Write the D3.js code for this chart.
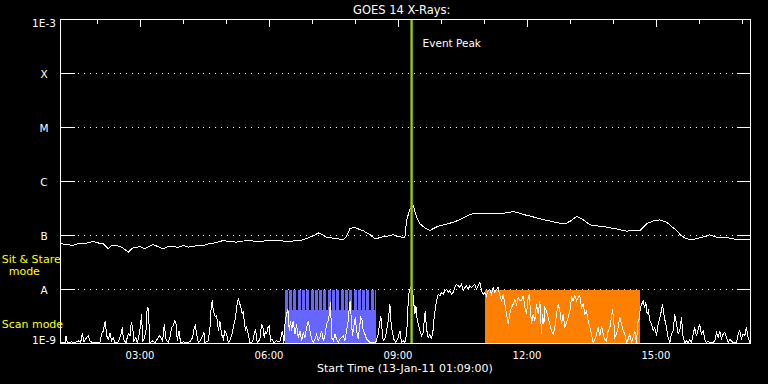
<!DOCTYPE html>
<html><head><meta charset="utf-8">
<script src="https://cdn.jsdelivr.net/npm/d3@7"></script>
<style>html,body{margin:0;padding:0;background:#000;}svg{display:block;}</style>
</head><body><svg id="c" width="768" height="384"></svg>
<script>
// ---------------- DATA ----------------
const startClock = "01:09";               // 13-Jan-11 01:09:00
const endMinutes = 963;                   // span of the plot in minutes
const levelValues = [1e-9, 1e-8, 1e-7, 1e-6, 1e-5, 1e-4, 1e-3];
const levelLabels = ["1E-9", "A", "B", "C", "M", "X", "1E-3"];
const gridLevels = [1e-8, 1e-7, 1e-6, 1e-5, 1e-4];
const eventPeakClock = "09:19";
const scanModeSpan = ["06:22", "08:30"];
const sitStareStripes = ["06:22","06:28","06:34","06:40","06:46","06:52","06:58","07:04","07:10","07:16","07:22",
  "07:28","07:34","07:40","07:46","07:52","07:58","08:04","08:10","08:16","08:22","08:28"];
const orangeSpan = ["11:01", "14:38"];

// long channel (1-8 A): [minutes since start, flux in nW/m^2]
const xrsLong = [[0,70],[1.7,70.2],[10,68],[17.9,65.3],[25,72],[31.8,70.2],[40,74],[45.8,77.4],[52,73],[59.7,70.2],[66.7,56.7],[72,66],[78.4,65.3],[86,60],[94.6,49.1],[100,58],[106.3,60.8],[112,62],[117.9,56.7],[124,63],[129.5,68.1],[136,62],[143.4,56.7],[150,63],[157.4,63.4],[164,60],[171.3,65.3],[178,61],[185.3,62.5],[192,66],[199.2,65.3],[206,70],[213.2,72.1],[220,76],[227.2,80.8],[236,77],[245.8,75.3],[255,79],[264.4,80.8],[274,77],[283,78.5],[292,82],[301.7,80.8],[311,79],[320.2,78.5],[330,80],[338.8,83.2],[348.1,93],[354,100],[359.7,112],[365,104],[371.4,93],[378,90],[385.4,86.9],[394.6,84.3],[399,95],[403.9,133],[408,140],[413.3,137],[418,128],[422.5,124],[427,112],[431.8,104],[438.8,86.9],[444,90],[450.4,95.8],[457,98],[464.4,103],[471,95],[478.3,93],[480.7,93],[483,190],[487.7,312],[492.3,359],[497,218],[501.6,165],[508,140],[515.5,124],[522,138],[529.5,153],[536,158],[543.4,169],[550,180],[557.4,195],[564,218],[571.4,245],[578,255],[585.3,259],[599,256],[613.2,252],[622,262],[631.8,278],[638,265],[645.7,245],[655,230],[669,204],[683,185],[696.9,169],[706.3,169],[713,190],[720.2,225],[725,210],[729.5,195],[738.8,158],[750,150],[762.1,143],[776,132],[790,120],[799,126],[808.6,124],[813,140],[817.9,165],[827,185],[836.5,195],[845.8,177],[852,150],[859.8,124],[866,100],[873.7,86.9],[882,84],[892.3,90.6],[899,95],[906.3,103],[913,95],[920.2,90.6],[929,92],[938.8,86.9],[947,83],[957.5,84.3],[962,83.2]];

// short channel (0.5-4 A): [minutes since start, flux in nW/m^2]
const xrsShort = [[0,1.04],[4,1.03],[6.3,1.04],[7.7,1.39],[9.5,1.04],[15.6,1.07],[20.2,1.04],[24.9,1.12],[28.1,1.04],[30.5,1.55],[32.8,1.07],[36.5,1.29],[38.8,1.39],[41.2,1.12],[44.4,1.04],[50.5,1.03],[55.1,1.07],[57.4,1.49],[59.8,1.72],[61.1,2.12],[62.5,2.63],[64.4,1.39],[66.7,1.2],[69.1,1.55],[71.4,1.12],[73.7,1.26],[76,1.04],[80.7,1.07],[84.4,1.49],[86.3,1.98],[87.7,1.2],[91.4,1.04],[94.6,1.53],[97,1.39],[98.8,2.45],[100.7,1.98],[102.5,1.12],[105.3,1.29],[107.2,1.04],[110,1.49],[111.8,2.28],[113.2,3.49],[114.6,1.12],[116.5,1.2],[119.3,1.72],[120.7,4.03],[122.1,4.64],[123.5,2.28],[124.9,1.04],[128.6,1.12],[131.8,1.04],[135.1,1.2],[137.9,1.39],[139.7,1.33],[142.5,1.12],[144.8,2.28],[147.2,1.2],[150.4,1.04],[152.8,1.29],[155.1,1.98],[157.4,2.12],[159.3,2.63],[161.1,2.45],[163,1.12],[165.3,1.72],[167.6,1.04],[171.4,1.07],[175.1,1.04],[180.7,1.07],[184.4,1.29],[186.2,1.84],[188.1,2.12],[190,1.49],[192.3,1.04],[194.6,1.12],[196.9,1.26],[200.2,1.6],[201.6,1.04],[206.2,1.12],[208.6,1.98],[210,4.03],[211.8,6.35],[213.2,4.03],[214.6,3.49],[216,3.12],[217.9,3.25],[219.2,2.28],[220.6,1.72],[222.5,2.63],[224.8,1.49],[227.2,1.2],[229.5,1.72],[231.8,1.49],[234.1,1.04],[236.5,1.15],[238.8,1.39],[241.1,1.98],[243.4,2.63],[244.8,3.49],[246.7,5.75],[248.1,6.63],[250.4,5.35],[251.8,4.64],[253.7,3.49],[255.1,4.03],[256.4,2.63],[258.3,1.72],[259.7,1.98],[262,1.49],[264.4,1.04],[268.1,1.07],[270.4,1.49],[272.3,1.84],[274.6,1.04],[278.3,1.2],[280.6,2.28],[282.5,1.98],[284.3,1.29],[286.2,1.72],[287.6,1.49],[289.5,1.98],[291.3,2.12],[293.2,1.12],[295,1.2],[297.8,1.04],[301.6,1.12],[306.2,1.07],[308.5,1.49],[309.9,1.72],[311.8,1.04],[313.6,2.63],[315.5,3.49],[317.4,4.32],[319.2,1.72],[321.1,2.63],
[322.5,1.72],[324.9,2.63],[327.2,1.49],[329.5,2.28],[331.8,1.29],[334.2,1.72],[336.5,1.12],[338.8,1.6],[341.1,1.29],[343.5,1.98],[345.8,2.63],[348.1,1.72],[350.4,1.2],[352.8,1.04],[355.1,1.2],[357.4,1.49],[359.7,1.12],[362.1,1.29],[364.4,1.72],[366.7,1.12],[369,1.39],[371.4,2.28],[373.7,2.63],[375.1,3.49],[376.9,5.75],[378.3,1.29],[380.7,1.12],[383,1.49],[385.3,1.2],[387.6,1.04],[390,1.2],[392.3,1.29],[394.6,1.39],[396.9,1.12],[399.3,1.72],[401.6,2.63],[403,4.64],[404.4,6.17],[406.2,2.28],[407.6,1.39],[409.5,2.12],[411.3,3.03],[413.2,1.72],[415.5,1.2],[417.9,2.28],[419.2,3.03],[421.1,2.63],[422.5,1.72],[424.8,1.49],[427.2,1.2],[429.5,1.12],[431.8,1.04],[436.5,1.03],[440.2,1.07],[443.4,1.49],[445.7,2.45],[447.1,3.25],[449,1.72],[450.4,1.12],[452.7,1.2],[455.1,1.72],[457.4,2.63],[458.8,4.03],[459.7,5.35],[461.1,2.63],[462.9,1.72],[465.3,1.2],[468.1,1.04],[471.3,1.29],[473.7,1.72],[476,1.04],[478.3,1.12],[480.6,1.04],[483,1.49],[483.9,2.28],[485.3,6.17],[486.7,9.44],[488.5,10.9],[490.4,10.1],[492.3,7.63],[493.2,5.35],[494.6,3.49],[496,4.98],[497.4,3.03],[499.2,2.28],[501.6,1.72],[503.9,1.39],[506.2,1.6],[507.6,2.63],[509,4.03],[510.9,1.84],[513.2,1.29],[515.5,1.49],[517.8,1.2],[520.2,1.84],[521.5,3.03],[523.4,4.64],[524.8,6.17],[527.1,8.19],[529.5,7.63],[531.8,8.8],[534.1,8.19],[536.4,9.44],[538.8,10.1],[541.1,8.8],[543.4,9.44],[545.7,8.19],[548.1,8.8],[550.4,10.9],[552.7,12.5],[555,11.7],[557.4,10.9],[559.7,12.5],[562,9.44],[564.3,10.9],[566.7,11.7],[569,10.1],[571.3,11.7],[573.6,10.9],[576,11.7],[578.3,12.5],[580.6,10.1],[582.9,11.7],[585.3,13.5],[587.6,9.44],[589.9,8.19],[592.2,8.8],[594.6,7.63],[596.9,9.44],[599.2,10.1],[601.5,8.19],[603.9,10.9],[606.2,8.8],[608.5,10.1],[610.8,10.9],[613.2,7.63],[615.5,6.17],[617.8,8.19],[620.1,5.35],[622.5,3.49],[624.8,2.28],[627.1,3.49],[629.4,4.64],[631.8,5.35],[634.1,6.63],[636.4,4.98],[638.7,7.1],[641.1,6.17],
[643.4,6.17],[645.8,7.63],[648.1,4.64],[650.4,3.49],[652.7,7.1],[654.1,8.19],[656,4.03],[657.4,2.28],[659.7,3.49],[662,2.63],[664.4,5.35],[666.7,3.49],[669,6.17],[671.3,1.49],[672.7,3.49],[674.6,2.28],[676,4.64],[678.3,4.03],[680.6,3.03],[683,2.28],[685.3,1.72],[687.6,1.49],[689.9,1.98],[692.3,3.49],[694.6,5.35],[696.9,4.03],[699.2,2.28],[701.6,3.49],[703.9,1.98],[706.2,2.45],[708.5,3.03],[710.9,4.03],[713.2,7.1],[715.5,6.17],[717.8,7.63],[720.2,6.17],[722.5,7.1],[724.8,7.63],[727.1,4.64],[729.5,5.35],[731.8,3.49],[734.1,4.03],[736.4,2.63],[738.8,1.98],[741.1,1.49],[743.4,1.04],[745.7,1.2],[748.1,1.49],[750.4,1.98],[752.7,1.39],[755,2.12],[757.4,1.49],[759.7,1.2],[762,1.12],[764.3,1.72],[766.7,1.98],[769,3.03],[770.4,4.32],[772.2,2.63],[773.6,1.29],[775.9,1.49],[778.3,1.98],[780.6,3.03],[782.9,2.28],[785.2,1.72],[787.6,1.49],[789.9,1.04],[792.2,1.2],[794.5,1.49],[796.9,1.04],[799.2,1.29],[801.5,1.72],[803.8,1.04],[806.2,2.63],[807.6,2.82],[809.4,4.64],[811.3,5.35],[813.1,6.17],[815,4.64],[816.9,5.75],[818.7,3.49],[820.6,4.03],[822.4,2.63],[824.8,2.28],[827.1,1.72],[829.4,1.98],[831.8,1.39],[834.1,2.28],[836.4,3.03],[838.7,4.03],[840.1,5.35],[842,3.49],[843.8,2.63],[845.7,1.98],[848,1.29],[850.4,1.04],[852.7,1.49],[855,1.72],[857.3,3.49],[859.7,2.28],[862,1.49],[864.3,1.72],[866.6,3.03],[869,1.29],[871.3,1.04],[873.6,1.12],[875.9,1.04],[878.3,1.2],[880.6,1.04],[882.9,1.49],[885.2,1.98],[887.6,1.39],[889.9,1.84],[892.2,2.28],[894.5,1.49],[896.9,1.72],[899.2,1.2],[901.5,1.04],[903.8,1.12],[906.2,1.04],[910.8,1.04],[913.1,1.12],[915.5,1.6],[917.8,1.29],[920.1,1.72],[922.4,1.2],[924.8,1.49],[927.1,1.6],[929.4,1.29],[931.7,1.04],[934.1,1.2],[936.4,1.12],[938.7,1.04],[943.4,1.04],[945.7,1.49],[948,1.72],[950.3,1.2],[952.7,1.49],[955,1.39],[957.3,1.98],[959.6,1.29],[962,1.04]];

// ---------------- LAYOUT ----------------
const L = 60.5, R = 750.5, T = 19.5, B = 343.5;
const FONT = "'DejaVu Sans', sans-serif";
const svg = d3.select("#c");
svg.append("rect").attr("width", 768).attr("height", 384).attr("fill", "#000");

const clockToDate = s => { const [h, m] = s.split(":").map(Number); return new Date(Date.UTC(2011, 0, 13, h, m)); };
const t0 = clockToDate(startClock);
const minToDate = m => new Date(t0.getTime() + m * 60000);

const x = d3.scaleUtc().domain([t0, minToDate(endMinutes)]).range([L, R]);
const y = d3.scaleLog().domain([1e-9, 1e-3]).range([B, T]).clamp(true);

// dotted grid
svg.append("g").selectAll("line").data(gridLevels).join("line")
  .attr("x1", L + 14).attr("x2", R - 14)
  .attr("y1", d => y(d)).attr("y2", d => y(d))
  .attr("stroke", "#fff").attr("stroke-width", 1)
  .attr("stroke-dasharray", "1,5").attr("stroke-dashoffset", -3)
  .attr("shape-rendering", "crispEdges");

// mode regions
const bandSplit = 4.2e-9;
svg.append("rect")
  .attr("x", x(clockToDate(scanModeSpan[0]))).attr("y", y(bandSplit))
  .attr("width", x(clockToDate(scanModeSpan[1])) - x(clockToDate(scanModeSpan[0])))
  .attr("height", y(1e-9) - y(bandSplit))
  .attr("fill", "#6666ff").attr("shape-rendering", "crispEdges");
const spanEnd = x(clockToDate(scanModeSpan[1]));
svg.append("g").selectAll("rect").data(sitStareStripes).join("rect")
  .attr("x", d => x(clockToDate(d)))
  .attr("y", y(1e-8))
  .attr("width", d => Math.min(x(new Date(clockToDate(d).getTime() + 4.2 * 60000)), spanEnd) - x(clockToDate(d)))
  .attr("height", y(bandSplit) - y(1e-8) + 0.5)
  .attr("fill", "#6666ff").attr("shape-rendering", "crispEdges");
svg.append("rect")
  .attr("x", x(clockToDate(orangeSpan[0]))).attr("y", y(1e-8))
  .attr("width", x(clockToDate(orangeSpan[1])) - x(clockToDate(orangeSpan[0])))
  .attr("height", y(1e-9) - y(1e-8))
  .attr("fill", "#ff8000").attr("shape-rendering", "crispEdges");

// data lines
const line = d3.line().x(d => x(minToDate(d[0]))).y(d => y(d[1] * 1e-9));
svg.append("path").datum(xrsShort).attr("d", line)
  .attr("fill", "none").attr("stroke", "#fff").attr("stroke-width", 1).attr("shape-rendering", "crispEdges");
svg.append("path").datum(xrsLong).attr("d", line)
  .attr("fill", "none").attr("stroke", "#fff").attr("stroke-width", 1).attr("shape-rendering", "crispEdges");

// event peak line
const xp = x(clockToDate(eventPeakClock));
svg.append("line").attr("x1", xp).attr("x2", xp).attr("y1", T).attr("y2", B)
  .attr("stroke", "#99cc00").attr("stroke-width", 2.4);
svg.append("text").attr("x", xp + 11).attr("y", 46.7)
  .attr("fill", "#fff").attr("font-family", FONT).attr("font-size", 10.5).text("Event Peak");

// frame
svg.append("rect").attr("x", L).attr("y", T).attr("width", R - L).attr("height", B - T)
  .attr("fill", "none").attr("stroke", "#fff").attr("stroke-width", 1).attr("shape-rendering", "crispEdges");

// top ticks
const minorTicks = x.ticks(d3.utcHour.every(1));
const majorTicks = x.ticks(d3.utcHour.every(3));
svg.append("g").selectAll("line").data(minorTicks).join("line")
  .attr("x1", d => Math.round(x(d)) + 0.5).attr("x2", d => Math.round(x(d)) + 0.5)
  .attr("y1", T).attr("y2", d => T + (d.getUTCHours() % 3 === 0 ? 7 : 4))
  .attr("stroke", "#fff").attr("shape-rendering", "crispEdges");

// x labels
svg.append("g").selectAll("text").data(majorTicks).join("text")
  .attr("x", d => x(d)).attr("y", 359.3).attr("text-anchor", "middle")
  .attr("fill", "#fff").attr("font-family", FONT).attr("font-size", 10)
  .text(d3.utcFormat("%H:%M"));
svg.append("text").attr("x", 404.8).attr("y", 372).attr("text-anchor", "middle")
  .attr("fill", "#fff").attr("font-family", FONT).attr("font-size", 11)
  .text("Start Time (13-Jan-11 01:09:00)");

// y ticks & labels
svg.append("g").selectAll("line").data(gridLevels).join("line")
  .attr("x1", L).attr("x2", L + 14).attr("y1", d => y(d)).attr("y2", d => y(d))
  .attr("stroke", "#fff").attr("shape-rendering", "crispEdges");
svg.append("g").selectAll("line").data(gridLevels).join("line")
  .attr("x1", R - 14).attr("x2", R).attr("y1", d => y(d)).attr("y2", d => y(d))
  .attr("stroke", "#fff").attr("shape-rendering", "crispEdges");
svg.append("g").selectAll("text").data(levelValues).join("text")
  .attr("x", 44).attr("text-anchor", "middle")
  .attr("y", (d, i) => i === 0 ? y(d) + 0.8 : i === levelValues.length - 1 ? y(d) + 7 : y(d) + 4)
  .attr("fill", "#fff").attr("font-family", FONT).attr("font-size", 10.5)
  .text((d, i) => levelLabels[i]);

// title
svg.append("text").attr("x", 401.7).attr("y", 14).attr("text-anchor", "middle")
  .attr("fill", "#fff").attr("font-family", FONT).attr("font-size", 11.5).text("GOES 14 X-Rays:");

// mode labels
const yl = svg.append("g").attr("fill", "#ffff00").attr("font-family", FONT).attr("font-size", 11);
yl.append("text").attr("x", 1.7).attr("y", 263.3).text("Sit & Stare");
yl.append("text").attr("x", 24.3).attr("y", 275).attr("text-anchor", "middle").text("mode");
yl.append("text").attr("x", 1.7).attr("y", 328.3).text("Scan mode");
</script></body></html>
